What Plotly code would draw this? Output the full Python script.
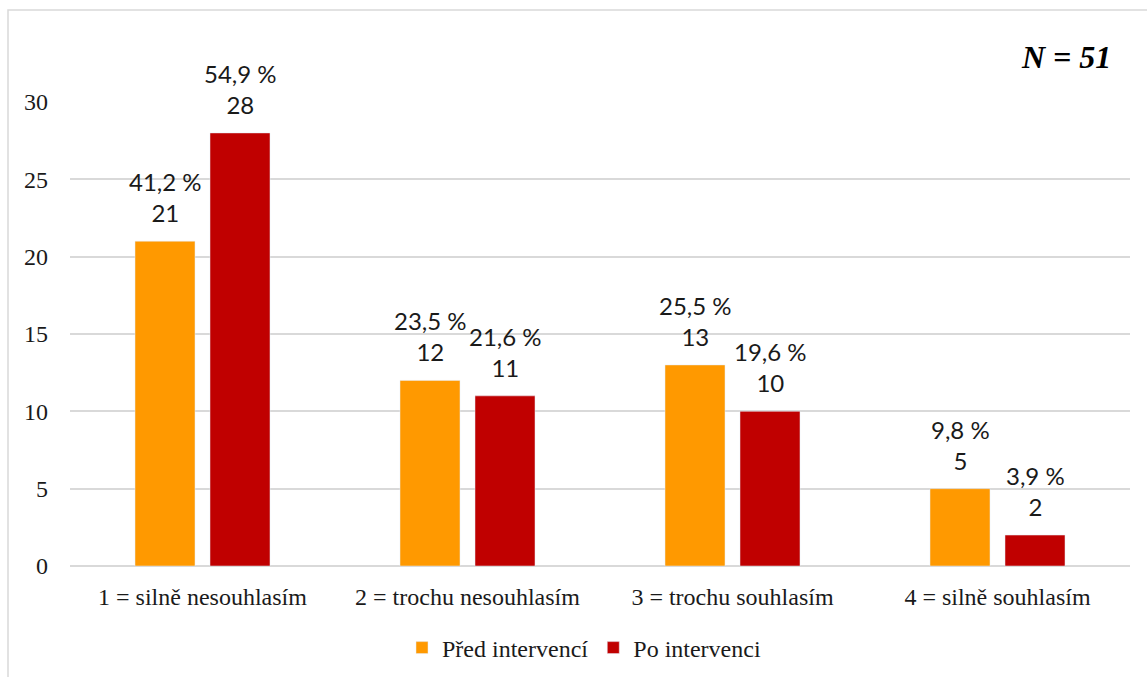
import plotly.graph_objects as go

categories = ["1 = silně nesouhlasím", "2 = trochu nesouhlasím", "3 = trochu souhlasím", "4 = silně souhlasím"]
pred_values = [21, 12, 13, 5]
po_values = [28, 11, 10, 2]
pred_pct = ["41,2 %", "23,5 %", "25,5 %", "9,8 %"]
po_pct = ["54,9 %", "21,6 %", "19,6 %", "3,9 %"]
series_names = ["Před intervencí", "Po intervenci"]
y_ticks = [0, 5, 10, 15, 20, 25, 30]

W, H = 1147, 677
L, R, T, B = 70, 17, 102, 111
pw, ph = W - L - R, H - T - B
BARGAP, GROUPGAP = 0.434, 0.2

SERIF = "Liberation Serif"
TXT = "#1a1a1a"
label_font = dict(family="Lato", size=24, color=TXT)

fig = go.Figure()
fig.add_trace(go.Bar(x=categories, y=pred_values, name=series_names[0],
                     marker=dict(color="#FF9900")))
fig.add_trace(go.Bar(x=categories, y=po_values, name=series_names[1],
                     marker=dict(color="#C00000")))

# data labels above bars, anchored at the bar value
slot = (1 - BARGAP) / 2
annotations = []
for s, (vals, pcts) in enumerate([(pred_values, pred_pct), (po_values, po_pct)]):
    off = (s - 0.5) * slot
    for i, (v, p) in enumerate(zip(vals, pcts)):
        annotations.append(dict(x=i + off, y=v, xref="x", yref="y",
                                text=f"{p}<br>{v}", showarrow=False,
                                xanchor="center", yanchor="bottom", yshift=12,
                                font=label_font))

def px_x(p):
    return (p - L) / pw

def px_y(p):
    return (H - B - p) / ph

annotations.append(dict(text="<b><i>N = 51</i></b>", xref="paper", yref="paper",
                        x=px_x(1113), y=px_y(57), xanchor="right", yanchor="middle", showarrow=False,
                        font=dict(family=SERIF, size=32, color="#000000")))

fig.update_layout(
    width=W, height=H,
    margin=dict(l=L, r=R, t=T, b=B, autoexpand=False),
    paper_bgcolor="white", plot_bgcolor="white",
    barmode="group", bargap=BARGAP, bargroupgap=GROUPGAP,
    font=dict(family=SERIF, size=24, color=TXT),
    showlegend=True,
    legend=dict(orientation="h", xref="container", yref="container",
                x=584 / W, xanchor="center", y=1 - 648 / H, yanchor="middle",
                font=dict(family=SERIF, size=24, color=TXT),
                itemwidth=30, traceorder="normal"),
    xaxis=dict(showgrid=False, showline=False, ticks="", ticklabelstandoff=14,
               tickfont=dict(family=SERIF, size=24, color=TXT)),
    yaxis=dict(range=[0, 30], tickvals=y_ticks, showgrid=True, gridcolor="#d9d9d9", gridwidth=1.5,
               zeroline=True, zerolinecolor="#d9d9d9", zerolinewidth=1.5, showline=False,
               ticks="", ticklabelstandoff=21,
               tickfont=dict(family=SERIF, size=24, color=TXT)),
    shapes=[dict(type="rect", xref="paper", yref="paper",
                 x0=px_x(8), x1=px_x(1160), y0=px_y(700), y1=px_y(10),
                 line=dict(color="#d9d9d9", width=1.5), fillcolor="rgba(0,0,0,0)", layer="below")],
    annotations=annotations,
)

fig.write_html("out.html")
